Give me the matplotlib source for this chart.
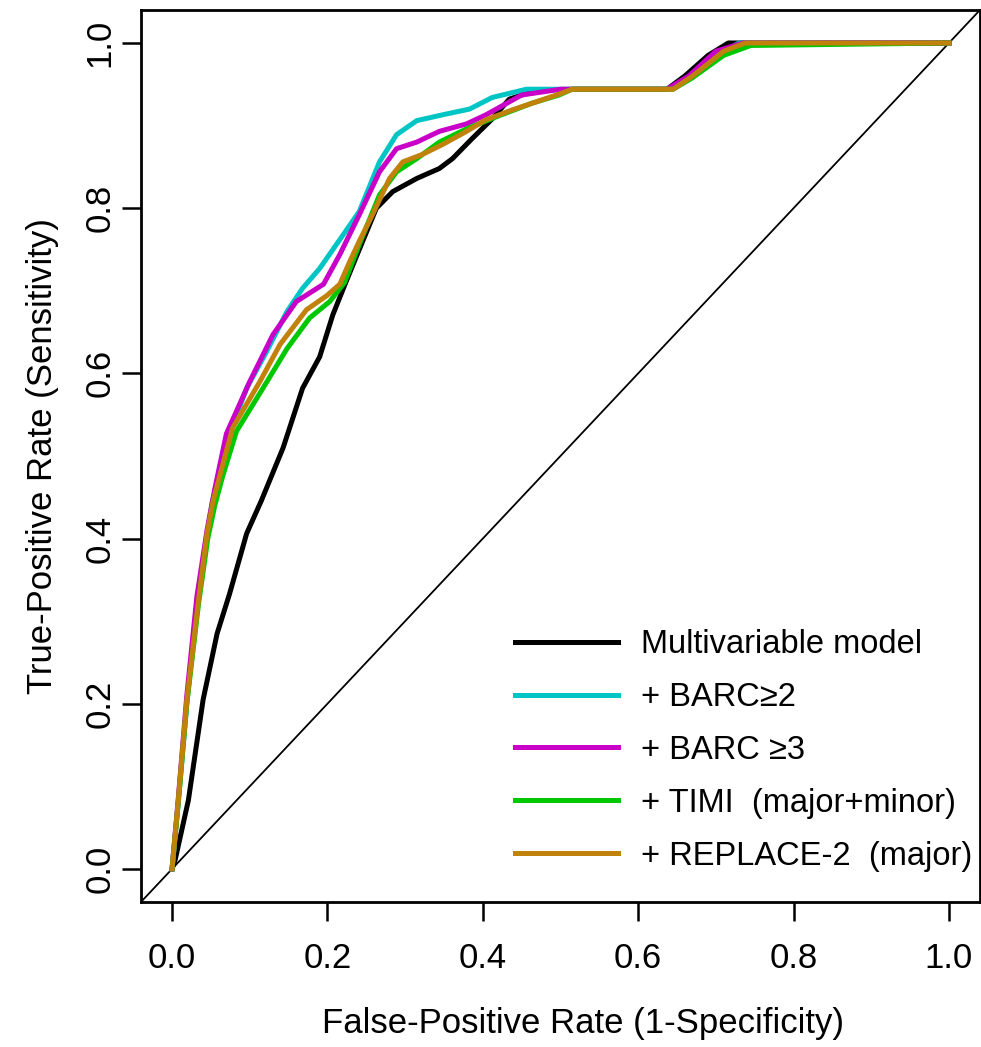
import matplotlib
matplotlib.use("Agg")
import matplotlib.pyplot as plt

plt.rcParams['font.family'] = ['Liberation Sans', 'DejaVu Sans']

# ROC curves (false-positive rate, true-positive rate)
fpr_model = [0, 0.004, 0.021, 0.04, 0.058, 0.074, 0.096, 0.115, 0.143, 0.168, 0.19, 0.207,
             0.224, 0.241, 0.263, 0.284, 0.315, 0.344, 0.361, 0.386, 0.412, 0.434, 0.463,
             0.472, 0.52, 0.637, 0.66, 0.69, 0.716, 1.0]
tpr_model = [0, 0.011, 0.083, 0.205, 0.285, 0.333, 0.406, 0.446, 0.51, 0.582, 0.62, 0.671,
             0.711, 0.75, 0.8, 0.82, 0.836, 0.848, 0.86, 0.884, 0.908, 0.932, 0.941,
             0.943, 0.944, 0.944, 0.96, 0.985, 1.0, 1.0]

fpr_barc2 = [0, 0.008, 0.019, 0.032, 0.045, 0.052, 0.062, 0.074, 0.096, 0.122, 0.148, 0.168,
             0.19, 0.216, 0.241, 0.267, 0.289, 0.315, 0.348, 0.383, 0.412, 0.456, 0.637,
             0.66, 0.7, 0.73, 1.0]
tpr_barc2 = [0, 0.08, 0.2, 0.322, 0.404, 0.446, 0.478, 0.527, 0.582, 0.627, 0.675, 0.703,
             0.727, 0.762, 0.796, 0.856, 0.889, 0.906, 0.913, 0.92, 0.934, 0.944, 0.944,
             0.955, 0.985, 1.0, 1.0]

fpr_barc3 = [0, 0.008, 0.019, 0.032, 0.045, 0.055, 0.07, 0.1, 0.13, 0.16, 0.195, 0.216,
             0.241, 0.267, 0.289, 0.315, 0.344, 0.379, 0.404, 0.45, 0.5, 0.637, 0.665,
             0.7, 0.735, 1.0]
tpr_barc3 = [0, 0.085, 0.21, 0.33, 0.41, 0.46, 0.527, 0.59, 0.647, 0.687, 0.708, 0.744,
             0.792, 0.844, 0.872, 0.88, 0.893, 0.902, 0.913, 0.937, 0.944, 0.944, 0.96,
             0.99, 1.0, 1.0]

fpr_timi = [0, 0.008, 0.019, 0.034, 0.046, 0.055, 0.065, 0.083, 0.117, 0.148, 0.177, 0.203,
            0.222, 0.241, 0.267, 0.289, 0.315, 0.344, 0.379, 0.421, 0.463, 0.498, 0.515,
            0.645, 0.67, 0.71, 0.745, 1.0]
tpr_timi = [0, 0.08, 0.2, 0.32, 0.4, 0.44, 0.475, 0.53, 0.582, 0.63, 0.667, 0.687,
            0.71, 0.756, 0.816, 0.844, 0.86, 0.88, 0.896, 0.912, 0.927, 0.937, 0.944,
            0.944, 0.958, 0.985, 0.997, 1.0]

fpr_replace = [0, 0.008, 0.019, 0.034, 0.045, 0.053, 0.062, 0.078, 0.113, 0.139, 0.173,
               0.199, 0.216, 0.229, 0.241, 0.258, 0.28, 0.297, 0.322, 0.348, 0.379, 0.404,
               0.438, 0.498, 0.515, 0.645, 0.67, 0.71, 0.738, 1.0]
tpr_replace = [0, 0.083, 0.204, 0.325, 0.406, 0.446, 0.478, 0.534, 0.59, 0.635, 0.677,
               0.694, 0.708, 0.736, 0.76, 0.792, 0.836, 0.856, 0.865, 0.877, 0.893, 0.907,
               0.919, 0.938, 0.944, 0.944, 0.96, 0.99, 1.0, 1.0]

labels = ['Multivariable model', '+ BARC\u22652', '+ BARC \u22653',
          '+ TIMI  (major+minor)', '+ REPLACE-2  (major)']
colors = ['#000000', '#00C5C5', '#C800C8', '#00C800', '#C0820A']
ticks = [0.0, 0.2, 0.4, 0.6, 0.8, 1.0]

fig = plt.figure(figsize=(9.81, 10.47), dpi=100)
ax = fig.add_axes([0.1437, 0.1385, 0.8553, 0.852])

ax.plot([-0.04, 1.04], [-0.04, 1.04], color='black', linewidth=1.3)

curves = [(fpr_model, tpr_model), (fpr_barc2, tpr_barc2), (fpr_barc3, tpr_barc3),
          (fpr_timi, tpr_timi), (fpr_replace, tpr_replace)]
for (fx, ty), lab, col in zip(curves, labels, colors):
    ax.plot(fx, ty, color=col, linewidth=3.6, label=lab, solid_joinstyle='round')

ax.set_xlim(-0.04, 1.04)
ax.set_ylim(-0.04, 1.04)
ax.set_xticks(ticks)
ax.set_yticks(ticks)
ax.set_xticklabels(['%.1f' % t for t in ticks])
ax.set_yticklabels(['%.1f' % t for t in ticks], rotation=90, va='center')
ax.tick_params(axis='both', direction='out', length=13.5, width=1.8, labelsize=25)
ax.tick_params(axis='x', pad=15)
ax.tick_params(axis='y', pad=4)
for s in ax.spines.values():
    s.set_linewidth(2.0)

ax.set_xlabel('False-Positive Rate (1-Specificity)', fontsize=25)
ax.set_ylabel('True-Positive Rate (Sensitivity)', fontsize=25)
ax.xaxis.set_label_coords(0.527, -0.118, transform=ax.transAxes)
ax.yaxis.set_label_coords(-0.098, 0.5, transform=ax.transAxes)

ax.legend(loc='center left', bbox_to_anchor=(0.4458, 0.170), frameon=False,
          fontsize=23.5, handlelength=3.16, handletextpad=0.7, labelspacing=0.67,
          borderpad=0, borderaxespad=0)

fig.savefig('out.png', dpi=100)
